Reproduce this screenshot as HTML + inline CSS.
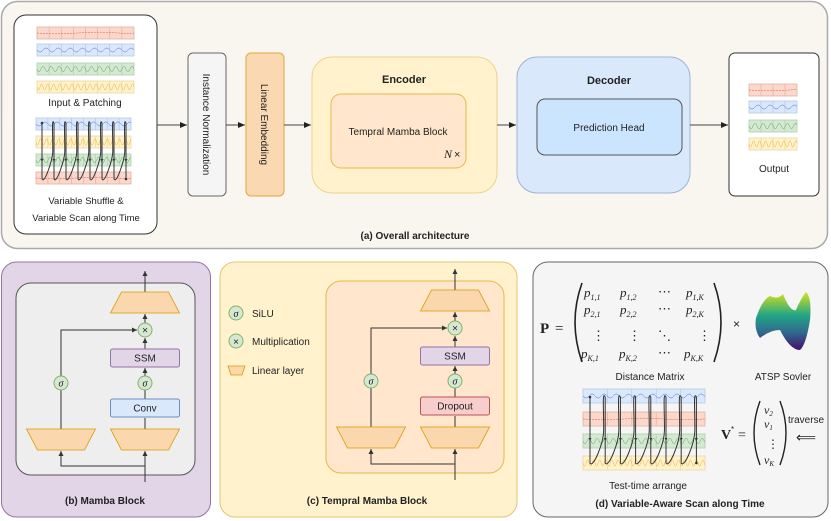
<!DOCTYPE html>
<html><head><meta charset="utf-8"><style>
html,body{margin:0;padding:0;background:#fff}
svg{display:block}
text{font-family:"Liberation Sans",sans-serif;fill:#222}
.b{font-weight:bold}
text.m,.m text{font-family:"Liberation Serif",serif;font-style:italic}
.m text.n{font-style:normal}
</style></head><body>
<svg id="s" width="831" height="521" viewBox="0 0 831 521" xmlns="http://www.w3.org/2000/svg">
<defs>
<marker id="ar" markerWidth="8" markerHeight="8" refX="7" refY="4" orient="auto" markerUnits="userSpaceOnUse"><path d="M0,1 L7,4 L0,7 Z" fill="#222"/></marker>
<marker id="as" markerWidth="6" markerHeight="6" refX="5" refY="3" orient="auto" markerUnits="userSpaceOnUse"><path d="M0,0.5 L5,3 L0,5.5 Z" fill="#333"/></marker>
<linearGradient id="vir" x1="0" y1="1" x2="0" y2="0"><stop offset="0" stop-color="#44106c"/><stop offset="0.3" stop-color="#31688e"/><stop offset="0.6" stop-color="#21a685"/><stop offset="1" stop-color="#d8e219"/></linearGradient>
</defs>
<!-- (a) -->
<rect x="1.5" y="1.5" width="826" height="247" rx="16" fill="#f8f6ef" stroke="#aaa" stroke-width="1.5"/>
<rect x="14" y="15" width="143" height="219" rx="12" fill="#fff" stroke="#333"/>
<text x="85" y="106" font-size="10" text-anchor="middle">Input &amp; Patching</text>
<text x="86" y="204" font-size="9.5" text-anchor="middle">Variable Shuffle &amp;</text>
<text x="86" y="221" font-size="9.5" text-anchor="middle">Variable Scan along Time</text>
<rect x="188" y="53" width="38" height="143" rx="5" fill="#f5f5f5" stroke="#666"/>
<text transform="translate(203,124.5) rotate(90)" font-size="10" text-anchor="middle">Instance Normalization</text>
<rect x="246" y="53" width="38" height="143" rx="5" fill="#fad9b2" stroke="#e5a53a"/>
<text transform="translate(261,124.5) rotate(90)" font-size="10" text-anchor="middle">Linear Embedding</text>
<rect x="312" y="57" width="185" height="136" rx="20" fill="#fff2cc" stroke="#ecd48a"/>
<text x="404" y="83" font-size="11" class="b" text-anchor="middle">Encoder</text>
<rect x="331" y="94" width="135" height="74" rx="10" fill="#ffe6cc" stroke="#e8b84a"/>
<text x="398" y="135" font-size="10" text-anchor="middle">Tempral Mamba Block</text>
<text x="444" y="158" font-size="12" class="m">N</text><text x="454" y="158" font-size="11">×</text>
<rect x="517" y="57" width="173" height="136" rx="20" fill="#dae8fc" stroke="#9db3d6"/>
<text x="609" y="84" font-size="11" class="b" text-anchor="middle">Decoder</text>
<rect x="537" y="99" width="145" height="56" rx="8" fill="#cce5ff" stroke="#555"/>
<text x="609" y="131" font-size="10" text-anchor="middle">Prediction Head</text>
<rect x="729" y="53" width="90" height="143" rx="6" fill="#fff" stroke="#333"/>
<text x="774" y="172" font-size="10" text-anchor="middle">Output</text>
<g stroke="#444" stroke-width="1" marker-end="url(#ar)">
<line x1="157" y1="125" x2="187" y2="125"/><line x1="226" y1="125" x2="245" y2="125"/><line x1="284" y1="125" x2="311" y2="125"/><line x1="497" y1="125" x2="516" y2="125"/><line x1="690" y1="125" x2="728" y2="125"/>
</g>
<text x="415" y="239" font-size="10" class="b" text-anchor="middle">(a) Overall architecture</text>

<!-- (b) -->
<rect x="1.5" y="262" width="209" height="255" rx="15" fill="#e1d5e7" stroke="#9673a6"/>
<rect x="16" y="283" width="179" height="192" rx="15" fill="#eeeeee" stroke="#555"/>
<text x="105" y="504" font-size="10" class="b" text-anchor="middle">(b) Mamba Block</text>
<!-- (c) -->
<rect x="220" y="262" width="297" height="255" rx="15" fill="#fff2cc" stroke="#e6c46e"/>
<rect x="326" y="281" width="178" height="192" rx="15" fill="#ffe6cc" stroke="#e6b84d"/>
<text x="367" y="504" font-size="10" class="b" text-anchor="middle">(c) Tempral Mamba Block</text>
<circle cx="236" cy="313" r="7" fill="#d5e8d4" stroke="#82b366"/><text x="236" y="317" font-size="10" class="m" text-anchor="middle">σ</text>
<text x="252" y="317" font-size="10">SiLU</text>
<circle cx="236" cy="341" r="7" fill="#d5e8d4" stroke="#82b366"/><text x="236" y="345" font-size="10" text-anchor="middle">×</text>
<text x="252" y="345" font-size="10">Multiplication</text>
<path d="M228,366 L245,366 L242,375 L231,375 Z" fill="#fad7ac" stroke="#d79b00" stroke-width="0.8"/>
<text x="252" y="374" font-size="10">Linear layer</text>

<!-- (d) -->
<rect x="533" y="262" width="295" height="255" rx="15" fill="#f5f5f5" stroke="#666"/>
<text x="540" y="333" font-size="15" font-weight="bold" style="font-family:'Liberation Serif',serif">P</text>
<text x="555" y="333" font-size="15" style="font-family:'Liberation Serif',serif">=</text>
<path d="M582,283 Q568,322 582,362" fill="none" stroke="#222" stroke-width="1.6"/>
<path d="M714,283 Q728,322 714,362" fill="none" stroke="#222" stroke-width="1.6"/>
<g font-size="13" class="m">
<text x="584" y="297">p<tspan font-size="8" dy="3">1,1</tspan></text>
<text x="620" y="297">p<tspan font-size="8" dy="3">1,2</tspan></text>
<text x="658" y="296" class="n">⋯</text>
<text x="686" y="297">p<tspan font-size="8" dy="3">1,K</tspan></text>
<text x="584" y="314">p<tspan font-size="8" dy="3">2,1</tspan></text>
<text x="620" y="314">p<tspan font-size="8" dy="3">2,2</tspan></text>
<text x="658" y="313" class="n">⋯</text>
<text x="686" y="314">p<tspan font-size="8" dy="3">2,K</tspan></text>
<text x="592" y="340" class="n">⋮</text>
<text x="628" y="340" class="n">⋮</text>
<text x="658" y="340" class="n">⋱</text>
<text x="698" y="340" class="n">⋮</text>
<text x="581" y="358">p<tspan font-size="8" dy="3">K,1</tspan></text>
<text x="619" y="358">p<tspan font-size="8" dy="3">K,2</tspan></text>
<text x="658" y="357" class="n">⋯</text>
<text x="684" y="358">p<tspan font-size="8" dy="3">K,K</tspan></text>
</g>
<text x="733" y="328" font-size="12" fill="#333">×</text>
<path d="M756,318 Q762,300 770,296 Q778,300 783,294 Q790,312 796,310 Q800,300 806,292 Q812,298 810,320 Q806,345 800,350 Q790,350 780,330 Q770,330 760,338 Q754,330 756,318 Z" fill="url(#vir)"/>
<text x="650" y="380" font-size="10" text-anchor="middle">Distance Matrix</text>
<text x="783" y="380" font-size="10" text-anchor="middle">ATSP Sovler</text>
<text x="648" y="489" font-size="10" text-anchor="middle">Test-time arrange</text>
<text x="721" y="439" font-size="14" font-weight="bold" style="font-family:'Liberation Serif',serif">V</text><text x="731" y="432" font-size="8">*</text>
<text x="738" y="439" font-size="14" style="font-family:'Liberation Serif',serif">=</text>
<path d="M760,401 Q748,433 760,465" fill="none" stroke="#222" stroke-width="1.4"/>
<path d="M780,401 Q792,433 780,465" fill="none" stroke="#222" stroke-width="1.4"/>
<g font-size="12" class="m">
<text x="764" y="414">v<tspan font-size="7" dy="2">2</tspan></text>
<text x="764" y="428">v<tspan font-size="7" dy="2">1</tspan></text>
<text x="767" y="448" class="n">⋮</text>
<text x="764" y="464">v<tspan font-size="7" dy="2">K</tspan></text>
</g>
<text x="788" y="423" font-size="10">traverse</text>
<text x="796" y="442" font-size="14">⟸</text>
<text x="680" y="507" font-size="10" class="b" text-anchor="middle">(d) Variable-Aware Scan along Time</text>
<g id="blk"></g>
<g id="wv"></g>
</svg>
<script>
var NS="http://www.w3.org/2000/svg",wv=document.getElementById('wv'),blk=document.getElementById('blk');
function el(p,t,a){var e=document.createElementNS(NS,t);for(var k in a)e.setAttribute(k,a[k]);p.appendChild(e);return e;}
var C={r:["#fad9cc","#e8b0a0","#e74c3c"],b:["#dae8fc","#b8c8e0","#4466ee"],g:["#d5e8d4","#b0d0a8","#55aa55"],y:["#fff2cc","#ecd8a0","#f0b030"]};
var F={r:[1.2,0.8],b:[8,2],g:[12,2.8],y:[16,3.2]};
function strip(x,y,w,h,c,cells){var k=C[c];el(wv,'rect',{x:x,y:y,width:w,height:h,fill:k[0],stroke:k[1],'stroke-width':0.8});
for(var i=1;i<cells;i++){var xx=x+w*i/cells;el(wv,'line',{x1:xx,y1:y,x2:xx,y2:y+h,stroke:k[1],'stroke-width':0.7});}
var d='',f=F[c],per=f[0]/97;for(var t=0;t<=w;t+=0.5){var yy=y+h/2+Math.sin(t*per*Math.PI*2)*f[1];d+=(t?'L':'M')+(x+t).toFixed(1)+','+yy.toFixed(1);}
el(wv,'path',{d:d,fill:'none',stroke:k[2],'stroke-width':0.5,'stroke-dasharray':c=='r'?'2,1':'none'});}
strip(37,27,97,12,'r',8);strip(37,44,97,12,'b',8);strip(37,63,97,12,'g',8);strip(37,81,97,12,'y',8);
strip(36,118,95,12,'b',8);strip(36,136,95,12,'y',8);strip(36,154,95,12,'g',8);strip(36,172,95,12,'r',8);
strip(749,84,48,12,'r',4);strip(749,101,48,12,'b',4);strip(749,120,48,12,'g',4);strip(749,138,48,12,'y',4);
strip(583,389,122,14,'b',5);strip(583,412,122,14,'r',5);strip(583,434,122,14,'g',5);strip(583,456,122,14,'y',5);
function loops(x0,sp,n,top,bot){var d='';for(var i=0;i<n;i++){var x=x0+i*sp;d+='M'+x+','+top+' L'+x+','+bot;if(i<n-1){var xn=x+sp;d+=' C'+(x+sp*0.2)+','+(bot+6)+' '+(xn-sp*0.1)+','+(bot-20)+' '+(xn-sp*0.1)+','+((top+bot)/2)+' C'+(xn-sp*0.1)+','+(top+10)+' '+(xn-sp*0.2)+','+(top-6)+' '+xn+','+top+' ';}}
el(wv,'path',{d:d,fill:'none',stroke:'#333','stroke-width':1});
for(var i=0;i<n;i++){var x=x0+i*sp;el(wv,'path',{d:'M'+(x-1.5)+','+((top+bot)/2+8)+' L'+(x+1.5)+','+((top+bot)/2+8)+' L'+x+','+((top+bot)/2+11)+' Z',fill:'#333'});}
el(wv,'circle',{cx:x0,cy:top,r:1.3,fill:'#333'});el(wv,'circle',{cx:x0+(n-1)*sp,cy:bot,r:1.3,fill:'#333'});}
loops(42,12,8,123,179);loops(590,15.2,8,397,463);
function circ(p,x,y,s){el(p,'circle',{cx:x,cy:y,r:7,fill:'#d5e8d4',stroke:'#82b366'});var t=el(p,'text',{x:x,y:y+3.5,'font-size':10,'text-anchor':'middle'});if(s=='σ')t.setAttribute('class','m');t.textContent=s;}
function box(p,x,y,w,h,f,s,txt){el(p,'rect',{x:x,y:y,width:w,height:h,rx:2,fill:f,stroke:s});var t=el(p,'text',{x:x+w/2,y:y+h/2+3.5,'font-size':10,'text-anchor':'middle'});t.textContent=txt;}
function trap(p,x,y,w,h){el(p,'path',{d:'M'+x+','+y+' L'+(x+w)+','+y+' L'+(x+w-11)+','+(y+h)+' L'+(x+11)+','+(y+h)+' Z',fill:'#fad7ac',stroke:'#d79b00','stroke-width':0.8});}
function topTrap(p,x,y,w,h){el(p,'path',{d:'M'+(x+11)+','+y+' L'+(x+w-11)+','+y+' L'+(x+w)+','+(y+h)+' L'+x+','+(y+h)+' Z',fill:'#fad7ac',stroke:'#d79b00','stroke-width':0.8});}
function block(L,R,top,fill2,stroke2,name){
 var g=blk;var ln=function(d,m){var a={d:d,fill:'none',stroke:'#333','stroke-width':1};if(m)a['marker-end']='url(#as)';el(g,'path',a);};
 ln('M'+R+','+(top)+' L'+R+','+(top-21),1);
 ln('M'+R+','+(top+31)+' L'+R+','+(top+22),1);
 ln('M'+R+','+(top+57)+' L'+R+','+(top+46),1);
 ln('M'+R+','+(top+84)+' L'+R+','+(top+76),1);
 ln('M'+R+','+(top+137)+' L'+R+','+(top+126));
 ln('M'+R+','+(top+107)+' L'+R+','+(top+98));
 ln('M'+L+','+(top+137)+' L'+L+','+(top+98));
 ln('M'+L+','+(top+84)+' L'+L+','+(top+38)+' L'+(R-8)+','+(top+38),1);
 ln('M'+R+','+(top+190)+' L'+R+','+(top+159),1);
 ln('M'+R+','+(top+174)+' L'+L+','+(top+174)+' L'+L+','+(top+159),1);
 topTrap(g,R-34.5,top,69,21);
 circ(g,R,top+38,'×');
 box(g,R-34.5,top+57,69,18,'#e1d5e7','#9673a6','SSM');
 circ(g,R,top+91,'σ');circ(g,L,top+91,'σ');
 box(g,R-34.5,top+107,69,18,fill2,stroke2,name);
 trap(g,R-34.5,top+137,69,21);trap(g,L-34.5,top+137,69,21);
}
block(61,145,292,'#dae8fc','#6c8ebf','Conv');
block(371,455,290,'#f8cecc','#b85450','Dropout');
</script>
</body></html>
